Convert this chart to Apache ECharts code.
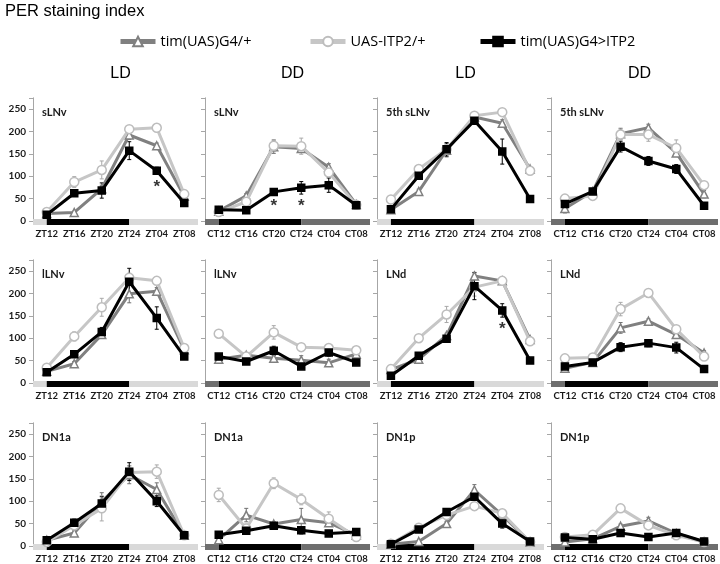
<!DOCTYPE html>
<html><head><meta charset="utf-8">
<script src="https://cdn.jsdelivr.net/npm/echarts@6/dist/echarts.min.js"></script>
<style>html,body{margin:0;padding:0;background:#fff}#c{width:720px;height:564px}</style>
</head><body><div id="c"></div>
<script>
// ---------- categories ----------
const ztLabels = ['ZT12','ZT16','ZT20','ZT24','ZT04','ZT08'];
const ctLabels = ['CT12','CT16','CT20','CT24','CT04','CT08'];
const seriesNames = ['tim(UAS)G4/+','UAS-ITP2/+','tim(UAS)G4>ITP2'];
const yTicks = [0,50,100,150,200,250];
// photoperiod bar segments (in category units): before ZT12 centre, dark phase, after
const phaseSegments = [0.5, 3, 2.5];

// ---------- values (PER staining index) ----------
const sLNvLD_tim = [17, 19, 72, 192, 168, 55];
const sLNvLD_uas = [20, 87, 114, 205, 208, 60];
const sLNvLD_itp = [14, 62, 68, 157, 112, 40];
const sLNvDD_tim = [22, 56, 166, 162, 120, 37];
const sLNvDD_uas = [20, 43, 168, 167, 108, 36];
const sLNvDD_itp = [25, 24, 65, 74, 80, 35];
const s5LD_tim = [25, 66, 158, 232, 218, 116];
const s5LD_uas = [48, 116, 160, 235, 243, 112];
const s5LD_itp = [26, 101, 160, 224, 155, 49];
const s5DD_tim = [28, 66, 195, 208, 152, 60];
const s5DD_uas = [50, 56, 193, 193, 163, 80];
const s5DD_itp = [38, 66, 166, 134, 116, 34];
const lLNvLD_tim = [26, 43, 108, 199, 205, 74];
const lLNvLD_uas = [34, 104, 169, 235, 228, 78];
const lLNvLD_itp = [24, 64, 114, 226, 145, 59];
const lLNvDD_tim = [53, 62, 55, 51, 45, 65];
const lLNvDD_uas = [110, 59, 113, 80, 78, 73];
const lLNvDD_itp = [59, 48, 72, 37, 68, 46];
const LNdLD_tim = [30, 53, 106, 239, 228, 97];
const LNdLD_uas = [31, 100, 153, 214, 228, 93];
const LNdLD_itp = [16, 61, 99, 216, 162, 50];
const LNdDD_tim = [33, 46, 123, 138, 108, 67];
const LNdDD_uas = [55, 57, 165, 201, 120, 59];
const LNdDD_itp = [37, 46, 80, 89, 79, 31];
const DN1aLD_tim = [13, 29, 99, 159, 126, 24];
const DN1aLD_uas = [9, 46, 84, 164, 166, 24];
const DN1aLD_itp = [13, 52, 95, 166, 100, 24];
const DN1aDD_tim = [14, 69, 49, 59, 52, 24];
const DN1aDD_uas = [114, 39, 140, 104, 61, 20];
const DN1aDD_itp = [25, 34, 45, 35, 28, 31];
const DN1pLD_tim = [4, 10, 50, 125, 69, 9];
const DN1pLD_uas = [5, 41, 69, 89, 73, 9];
const DN1pLD_itp = [4, 37, 76, 110, 50, 10];
const DN1pDD_tim = [9, 16, 44, 56, 28, 9];
const DN1pDD_uas = [20, 25, 84, 46, 24, 9];
const DN1pDD_itp = [19, 15, 29, 20, 29, 10];

// ---------- error (SEM) estimates ----------
const sLNvLD_timE = [2,3,8,10,6,5],   sLNvLD_uasE = [3,12,20,8,6,5],  sLNvLD_itpE = [3,6,17,20,8,3];
const sLNvDD_timE = [5,5,15,8,8,4],   sLNvDD_uasE = [10,6,12,18,10,4], sLNvDD_itpE = [5,3,5,14,16,3];
const s5LD_timE = [5,5,15,5,8,5],     s5LD_uasE = [8,5,10,5,5,5],     s5LD_itpE = [6,5,15,5,28,3];
const s5DD_timE = [10,5,12,8,8,8],    s5DD_uasE = [8,8,12,15,18,8],   s5DD_itpE = [12,6,12,10,10,3];
const lLNvLD_timE = [3,5,8,20,8,5],   lLNvLD_uasE = [3,10,20,10,8,5], lLNvLD_itpE = [3,5,10,30,25,3];
const lLNvDD_timE = [5,5,8,10,8,5],   lLNvDD_uasE = [5,5,15,5,8,5],   lLNvDD_itpE = [5,3,10,5,8,3];
const LNdLD_timE = [3,5,5,8,5,5],     LNdLD_uasE = [3,5,18,20,5,5],   LNdLD_itpE = [3,5,5,30,15,3];
const LNdDD_timE = [5,3,12,5,5,5],    LNdDD_uasE = [5,5,15,8,8,5],    LNdDD_itpE = [5,3,10,8,12,3];
const DN1aLD_timE = [3,5,20,20,15,3], DN1aLD_uasE = [3,10,28,15,15,3], DN1aLD_itpE = [3,8,15,20,12,3];
const DN1aDD_timE = [5,15,5,25,5,5],  DN1aDD_uasE = [15,10,12,12,15,5], DN1aDD_itpE = [5,3,5,8,3,3];
const DN1pLD_timE = [2,2,5,12,5,3],   DN1pLD_uasE = [2,3,5,8,5,3],    DN1pLD_itpE = [2,3,5,8,10,3];
const DN1pDD_timE = [3,3,5,8,5,3],    DN1pDD_uasE = [3,3,5,8,5,3],    DN1pDD_itpE = [3,3,5,5,5,3];

// significance stars: [panel index, category index]
const stars = [[0,4],[1,2],[1,3],[6,4]];

const panelNames = ['sLNv','sLNv','5th sLNv','5th sLNv','lLNv','lLNv','LNd','LNd','DN1a','DN1a','DN1p','DN1p'];
const conditions = ['LD','DD','LD','DD'];

const panels = [
  [sLNvLD_tim, sLNvLD_uas, sLNvLD_itp, sLNvLD_timE, sLNvLD_uasE, sLNvLD_itpE],
  [sLNvDD_tim, sLNvDD_uas, sLNvDD_itp, sLNvDD_timE, sLNvDD_uasE, sLNvDD_itpE],
  [s5LD_tim, s5LD_uas, s5LD_itp, s5LD_timE, s5LD_uasE, s5LD_itpE],
  [s5DD_tim, s5DD_uas, s5DD_itp, s5DD_timE, s5DD_uasE, s5DD_itpE],
  [lLNvLD_tim, lLNvLD_uas, lLNvLD_itp, lLNvLD_timE, lLNvLD_uasE, lLNvLD_itpE],
  [lLNvDD_tim, lLNvDD_uas, lLNvDD_itp, lLNvDD_timE, lLNvDD_uasE, lLNvDD_itpE],
  [LNdLD_tim, LNdLD_uas, LNdLD_itp, LNdLD_timE, LNdLD_uasE, LNdLD_itpE],
  [LNdDD_tim, LNdDD_uas, LNdDD_itp, LNdDD_timE, LNdDD_uasE, LNdDD_itpE],
  [DN1aLD_tim, DN1aLD_uas, DN1aLD_itp, DN1aLD_timE, DN1aLD_uasE, DN1aLD_itpE],
  [DN1aDD_tim, DN1aDD_uas, DN1aDD_itp, DN1aDD_timE, DN1aDD_uasE, DN1aDD_itpE],
  [DN1pLD_tim, DN1pLD_uas, DN1pLD_itp, DN1pLD_timE, DN1pLD_uasE, DN1pLD_itpE],
  [DN1pDD_tim, DN1pDD_uas, DN1pDD_itp, DN1pDD_timE, DN1pDD_uasE, DN1pDD_itpE]
];

// ---------- layout / style ----------
const colLeft = [33, 205, 377, 551];
const colWidth = [165, 165, 167, 167];
const rowBase = [221, 383, 546];
const yMax = 275, pxPerUnit = 0.448;
const gridH = yMax * pxPerUnit;
const lineColors = ['#808080', '#c6c6c6', '#000000'];
const errColors = ['#707070', '#a8a8a8', '#000000'];
const phaseColors = { LD: ['#d9d9d9', '#000000', '#d9d9d9'], DD: ['#6e6e6e', '#000000', '#6e6e6e'] };
const symbols = [
  { symbol: 'triangle', size: 8, fill: '#ffffff', border: '#808080' },
  { symbol: 'circle', size: 9, fill: '#ffffff', border: '#bdbdbd' },
  { symbol: 'rect', size: 7, fill: '#000000', border: '#000000' }
];
const labelFont = 'Lato';

const grids = [], xAxes = [], yAxes = [], series = [], titles = [];

titles.push({ text: 'PER staining index', left: 0, top: -2,
  textStyle: { fontFamily: 'Liberation Sans', fontSize: 16.5, fontWeight: 'normal', color: '#000' } });
conditions.forEach((c, ci) => {
  titles.push({ text: c, left: colLeft[ci] + colWidth[ci] / 2, top: 61, textAlign: 'center',
    textStyle: { fontFamily: 'Liberation Sans', fontSize: 16, fontWeight: 'normal', color: '#000' } });
});

function renderErr(params, api) {
  const x = api.value(0), lo = api.value(1), hi = api.value(2);
  const p1 = api.coord([x, hi]), p2 = api.coord([x, lo]);
  const c = api.visual('color');
  const st = { stroke: c, lineWidth: 1 };
  return { type: 'group', children: [
    { type: 'line', shape: { x1: p1[0], y1: p1[1], x2: p2[0], y2: p2[1] }, style: st },
    { type: 'line', shape: { x1: p1[0] - 2, y1: p1[1], x2: p1[0] + 2, y2: p1[1] }, style: st },
    { type: 'line', shape: { x1: p2[0] - 2, y1: p2[1], x2: p2[0] + 2, y2: p2[1] }, style: st }
  ]};
}

panels.forEach((p, i) => {
  const row = Math.floor(i / 4), col = i % 4;
  const cond = conditions[col];
  const top = rowBase[row] - gridH;
  grids.push({ left: colLeft[col], width: colWidth[col], top: top, height: gridH });
  xAxes.push({ type: 'category', gridIndex: i, data: cond === 'LD' ? ztLabels : ctLabels, boundaryGap: true,
    axisLine: { show: false }, axisTick: { show: false },
    axisLabel: { margin: 8, fontFamily: labelFont, fontWeight: 'bold', fontSize: 9.5, color: '#1a1a1a', interval: 0 } });
  yAxes.push({ type: 'value', gridIndex: i, min: 0, max: yMax, interval: 50,
    axisLine: { show: true, lineStyle: { color: '#a6a6a6', width: 1 } },
    axisTick: { show: true, length: 4, lineStyle: { color: '#a6a6a6' } },
    splitLine: { show: false },
    axisLabel: { show: col === 0, margin: 7, fontFamily: labelFont, fontWeight: 'bold', fontSize: 10, color: '#1a1a1a',
      formatter: v => (yTicks.indexOf(v) >= 0 ? String(v) : '') } });
  titles.push({ text: panelNames[i], left: colLeft[col] + 4, top: top + 4,
    textStyle: { fontFamily: labelFont, fontWeight: 'bold', fontSize: 11, color: '#1a1a1a' } });

  // error bars
  for (let s = 0; s < 3; s++) {
    const vals = p[s], errs = p[s + 3];
    series.push({ type: 'custom', name: 'err' + s, xAxisIndex: i, yAxisIndex: i, renderItem: renderErr,
      itemStyle: { color: errColors[s] }, z: 1, silent: true,
      encode: { x: 0, y: [1, 2] },
      data: vals.map((v, k) => [k, Math.max(0, v - errs[k]), v + errs[k]]) });
  }
  // lines (draw light first, then grey, then black)
  [1, 0, 2].forEach(s => {
    series.push({ type: 'line', name: seriesNames[s], xAxisIndex: i, yAxisIndex: i, data: p[s],
      symbol: symbols[s].symbol, symbolSize: symbols[s].size, showAllSymbol: true,
      lineStyle: { color: lineColors[s], width: 3 },
      itemStyle: { color: symbols[s].fill, borderColor: symbols[s].border, borderWidth: 1.5 },
      z: 2 + s });
  });
  // stars
  const myStars = stars.filter(st => st[0] === i);
  if (myStars.length) {
    series.push({ type: 'scatter', name: 'star', xAxisIndex: i, yAxisIndex: i, symbolSize: 2,
      itemStyle: { color: 'rgba(0,0,0,0)' }, z: 6, silent: true,
      label: { show: true, position: 'bottom', fontSize: 17, fontWeight: 'bold', color: '#000', fontFamily: 'Liberation Sans',
        formatter: '*' },
      data: myStars.map(st => ({ value: [st[1], p[2][st[1]]],
        label: { distance: p[5][st[1]] * pxPerUnit + 3 } })) });
  }
});

// photoperiod bars
panels.forEach((p, i) => {
  const row = Math.floor(i / 4), col = i % 4;
  const cond = conditions[col];
  const gi = 12 + i;
  grids.push({ left: colLeft[col], width: colWidth[col], top: rowBase[row] - 2, height: 6 });
  xAxes.push({ type: 'value', gridIndex: gi, min: 0, max: 6, show: false });
  yAxes.push({ type: 'category', gridIndex: gi, data: ['phase'], show: false });
  phaseSegments.forEach((len, k) => {
    series.push({ type: 'bar', name: 'phase' + k, xAxisIndex: gi, yAxisIndex: gi, stack: 'ph' + i,
      barWidth: '100%', silent: true, data: [len], itemStyle: { color: phaseColors[cond][k] } });
  });
});

const legendText = { fontFamily: 'Open Sans', fontSize: 14.5, color: '#000' };
const legendLefts = [113, 303, 473];
const legends = seriesNames.map((n, k) => ({
  data: [n], left: legendLefts[k], top: 29, itemWidth: 35, itemHeight: 12, itemGap: 0,
  selectedMode: false, textStyle: legendText, lineStyle: { width: 5 }
}));

const chart = echarts.init(document.getElementById('c'), null, { renderer: 'canvas' });
chart.setOption({
  animation: false,
  backgroundColor: '#ffffff',
  title: titles,
  legend: legends,
  grid: grids,
  xAxis: xAxes,
  yAxis: yAxes,
  series: series
});
</script>
</body></html>
